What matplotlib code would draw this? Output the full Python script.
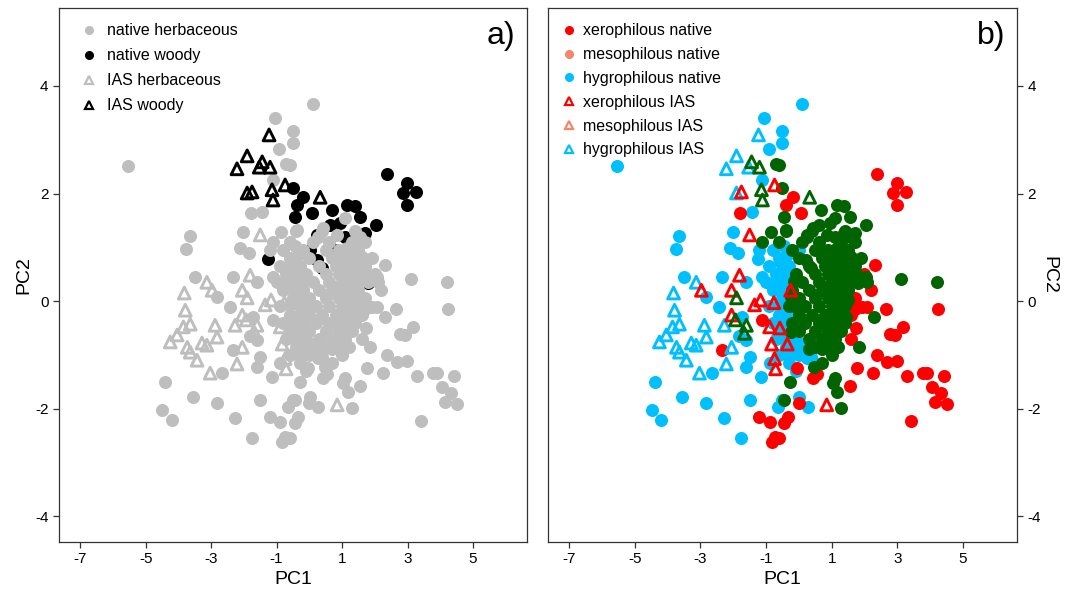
import matplotlib
matplotlib.use("Agg")
import matplotlib.pyplot as plt
from matplotlib.lines import Line2D

plt.rcParams['font.family'] = ['Liberation Sans', 'DejaVu Sans']
plt.rcParams['axes.unicode_minus'] = False

# (PC1, PC2, habitat)  habitat: x = xerophilous, m = mesophilous, h = hygrophilous
native_herb = [
    (-5.55, 2.51, 'h'), (-1.05, 3.40, 'h'), (0.11, 3.67, 'h'), (-0.50, 3.16, 'h'),
    (-0.50, 2.94, 'h'), (-0.92, 2.83, 'h'), (-0.71, 2.55, 'm'), (-0.59, 2.53, 'm'),
    (-1.11, 2.25, 'h'), (-1.78, 1.64, 'x'), (-1.44, 1.66, 'h'), (-2.02, 1.28, 'h'),
    (-0.86, 1.28, 'm'), (-0.38, 1.32, 'm'), (-1.11, 1.10, 'm'), (-3.64, 1.21, 'h'),
    (-3.76, 0.97, 'h'), (-2.11, 0.99, 'h'), (-1.84, 0.89, 'h'), (-1.20, 0.95, 'h'),
    (0.42, 1.36, 'm'), (1.09, 1.54, 'm'),
    (-3.49, 0.45, 'h'), (-2.82, 0.07, 'h'), (-2.42, -0.11, 'h'), (-2.33, 0.45, 'h'),
    (-1.60, 0.35, 'h'), (-1.11, 0.45, 'h'), (-0.59, 0.48, 'h'), (-1.72, -0.30, 'h'),
    (-1.11, -0.35, 'x'), (-1.81, -0.64, 'h'), (-1.60, -0.73, 'h'), (-2.33, -0.91, 'x'),
    (-1.50, -1.04, 'h'), (-1.60, -1.23, 'h'), (-2.66, -1.34, 'h'), (-1.14, -1.41, 'h'),
    (-0.89, -1.15, 'h'), (-4.40, -1.51, 'h'), (-3.55, -1.79, 'h'), (-4.49, -2.03, 'h'),
    (-4.19, -2.21, 'h'), (-2.82, -1.90, 'h'), (-2.27, -2.18, 'h'), (-1.50, -1.84, 'h'),
    (-1.20, -2.16, 'x'), (-0.89, -2.25, 'x'), (-1.75, -2.55, 'h'), (-0.83, -2.62, 'x'),
    (-0.74, -2.52, 'x'), (-0.50, -1.84, 'h'), (-0.65, -1.97, 'h'), (-0.28, -1.51, 'm'),
    (-0.44, -1.84, 'm'), (-0.34, -2.16, 'x'), (-0.44, -2.27, 'x'), (-0.59, -2.55, 'x'),
    (0.02, -1.79, 'h'), (0.27, -1.97, 'h'), (0.00, -1.90, 'x'), (0.42, -1.43, 'x'),
    (1.09, -1.43, 'm'), (1.03, -1.53, 'm'), (1.17, -1.69, 'm'), (1.30, -1.99, 'm'),
    (1.55, -1.58, 'x'), (1.76, -1.25, 'x'), (2.25, -1.34, 'x'), (2.37, -1.00, 'x'),
    (2.68, -1.13, 'x'), (2.98, -1.12, 'x'), (3.29, -1.40, 'x'), (3.78, -1.34, 'x'),
    (3.90, -1.34, 'x'), (4.42, -1.40, 'x'), (4.05, -1.60, 'x'), (4.33, -1.71, 'x'),
    (4.15, -1.88, 'x'), (4.51, -1.92, 'x'), (3.41, -2.23, 'x'), (2.77, -0.61, 'x'),
    (2.92, -0.63, 'x'), (3.17, -0.48, 'x'), (2.65, -0.15, 'x'), (4.24, -0.15, 'x'),
    (4.21, 0.35, 'm'), (3.11, 0.41, 'm'), (2.06, 0.45, 'm'), (2.09, 0.35, 'm'),
    (2.31, 0.67, 'x'), (2.30, -0.30, 'm'), (1.84, -0.86, 'm'), (2.08, -0.11, 'x'),
    (1.93, -0.11, 'x'), (1.74, -0.50, 'x'), (0.93, -0.69, 'x'), (-0.05, -1.25, 'x'),
    (0.47, -1.23, 'm'), (0.38, -1.04, 'h'),
    # dense centre
    (-0.40, 1.30, 'm'), (0.40, 1.30, 'm'), (1.40, 1.30, 'm'),
    (-0.60, 1.10, 'm'), (0.10, 1.10, 'm'), (0.60, 1.10, 'm'), (1.30, 1.10, 'm'), (1.70, 1.10, 'm'),
    (-0.80, 0.95, 'h'), (-0.20, 0.95, 'm'), (0.50, 0.95, 'm'), (0.90, 0.95, 'm'), (1.50, 0.95, 'm'),
    (-0.60, 0.80, 'h'), (0.00, 0.80, 'm'), (0.70, 0.80, 'm'), (1.00, 0.80, 'm'), (1.30, 0.80, 'm'),
    (1.90, 0.80, 'm'),
    (-0.90, 0.65, 'h'), (-0.30, 0.65, 'h'), (0.30, 0.65, 'm'), (0.80, 0.65, 'm'), (1.10, 0.65, 'm'),
    (1.40, 0.65, 'm'), (1.70, 0.65, 'm'),
    (-0.70, 0.50, 'h'), (-0.10, 0.50, 'm'), (0.50, 0.50, 'm'), (0.90, 0.50, 'm'), (1.20, 0.50, 'm'),
    (1.50, 0.50, 'm'), (2.00, 0.50, 'x'),
    (-1.00, 0.35, 'h'), (-0.40, 0.35, 'h'), (0.10, 0.35, 'm'), (0.60, 0.35, 'm'), (1.00, 0.35, 'm'),
    (1.30, 0.35, 'm'), (1.80, 0.35, 'm'),
    (-0.80, 0.20, 'h'), (-0.20, 0.20, 'm'), (0.30, 0.20, 'm'), (0.70, 0.20, 'm'), (1.10, 0.20, 'm'),
    (1.50, 0.20, 'm'), (2.20, 0.20, 'x'),
    (-0.50, 0.05, 'h'), (0.00, 0.05, 'm'), (0.50, 0.05, 'm'), (0.90, 0.05, 'm'), (1.30, 0.05, 'm'),
    (1.70, 0.05, 'x'),
    (-0.90, -0.10, 'h'), (-0.30, -0.10, 'm'), (0.20, -0.10, 'm'), (0.60, -0.10, 'm'), (1.00, -0.10, 'm'),
    (1.40, -0.10, 'm'),
    (-0.60, -0.25, 'h'), (0.00, -0.25, 'm'), (0.40, -0.25, 'm'), (0.80, -0.25, 'm'), (1.20, -0.25, 'm'),
    (1.60, -0.25, 'x'),
    (-0.80, -0.40, 'h'), (-0.20, -0.40, 'm'), (0.20, -0.40, 'm'), (0.60, -0.40, 'm'), (1.00, -0.40, 'm'),
    (1.40, -0.40, 'm'),
    (-0.50, -0.55, 'h'), (0.00, -0.55, 'm'), (0.50, -0.55, 'm'), (0.90, -0.55, 'm'), (1.30, -0.55, 'm'),
    (1.60, -0.70, 'x'),
    (-0.70, -0.70, 'h'), (-0.10, -0.70, 'h'), (0.30, -0.70, 'm'), (0.70, -0.70, 'm'), (1.10, -0.70, 'm'),
    (-0.40, -0.85, 'h'), (0.10, -0.85, 'h'), (0.50, -0.85, 'm'), (0.90, -0.85, 'm'), (1.20, -0.85, 'm'),
    (-0.60, -1.00, 'h'), (0.00, -1.00, 'h'), (1.00, -1.00, 'm'),
    (-0.30, -1.15, 'h'), (0.70, -1.15, 'm'),
    (-0.10, -1.30, 'h'), (0.55, -1.35, 'x'),
    (0.25, 1.20, 'm'), (0.85, 1.22, 'm'), (1.55, 1.20, 'm'),
    (-0.45, 1.02, 'h'), (1.15, 0.98, 'm'),
    (-0.35, 0.85, 'h'), (1.60, 0.82, 'm'),
    (-0.55, 0.70, 'h'), (1.25, 0.70, 'm'),
    (-0.35, 0.55, 'h'), (1.75, 0.52, 'm'),
    (-0.70, 0.40, 'h'), (-0.15, 0.38, 'm'), (1.55, 0.38, 'm'),
    (-0.50, 0.25, 'h'), (0.90, 0.28, 'm'), (1.30, 0.20, 'm'),
    (-0.25, 0.08, 'm'), (1.10, 0.08, 'm'), (1.50, 0.02, 'm'),
    (-0.60, -0.08, 'h'), (-0.05, -0.12, 'm'), (1.20, -0.08, 'm'), (1.70, -0.15, 'x'),
    (-0.35, -0.28, 'h'), (1.00, -0.25, 'm'), (1.45, -0.30, 'm'),
    (-0.50, -0.42, 'h'), (0.80, -0.42, 'm'), (1.20, -0.45, 'm'),
    (-0.25, -0.58, 'm'), (1.10, -0.55, 'm'),
    (-0.40, -0.72, 'h'), (0.90, -0.72, 'm'),
    (-0.15, -0.88, 'h'), (0.30, -0.90, 'm'), (0.70, -0.90, 'm'),
    (-0.30, -1.00, 'h'), (0.25, -1.05, 'h'),
]

native_woody = [
    (-0.50, 2.10, 'm'), (-0.38, 1.79, 'x'), (-0.44, 1.56, 'm'), (-0.19, 1.93, 'x'),
    (0.08, 1.64, 'x'), (0.69, 1.69, 'm'), (1.15, 1.79, 'm'), (1.39, 1.77, 'm'),
    (1.55, 1.56, 'm'), (0.94, 1.45, 'm'), (2.04, 1.41, 'm'), (1.70, 1.26, 'm'),
    (1.39, 1.26, 'm'), (0.63, 1.41, 'm'), (0.24, 1.23, 'm'), (1.09, 1.19, 'm'),
    (0.02, 0.95, 'h'), (2.37, 2.36, 'x'), (2.98, 2.19, 'x'), (2.86, 2.01, 'x'),
    (3.26, 2.03, 'x'), (2.98, 1.79, 'x'), (-1.26, 0.78, 'h'), (0.22, 0.76, 'm'),
    (0.38, 0.61, 'm'), (1.61, 0.52, 'm'), (1.79, 0.33, 'm'), (1.24, 0.24, 'm'),
    (0.75, 0.95, 'm'),
]

ias_herb = [
    (-3.13, 0.35, 'h'), (-2.97, 0.20, 'x'), (-3.82, 0.15, 'h'), (-3.79, -0.17, 'h'),
    (-3.64, -0.43, 'h'), (-3.85, -0.48, 'h'), (-4.04, -0.63, 'h'), (-4.25, -0.76, 'h'),
    (-3.73, -0.86, 'h'), (-3.64, -0.95, 'h'), (-3.43, -1.10, 'h'), (-3.28, -0.78, 'h'),
    (-3.13, -0.82, 'h'), (-2.88, -0.45, 'h'), (-2.82, -0.67, 'h'), (-3.03, -1.34, 'h'),
    (-2.21, -1.17, 'h'), (-2.05, 0.20, 'x'), (-1.90, 0.06, 'm'), (-2.27, -0.45, 'h'),
    (-2.05, -0.26, 'x'), (-1.93, -0.35, 'm'), (-1.81, 0.48, 'x'), (-2.05, -0.86, 'h'),
    (-1.60, -0.45, 'm'), (-1.66, -0.60, 'm'), (-1.35, -0.07, 'x'), (-1.17, 0.02, 'x'),
    (-0.76, -0.03, 'x'), (-0.89, -0.48, 'x'), (-0.58, -0.50, 'x'), (-0.83, -0.80, 'x'),
    (-0.74, -1.07, 'x'), (-0.71, -1.26, 'x'), (-1.50, 1.23, 'x'), (0.85, -1.93, 'x'),
    (-0.25, 0.20, 'x'), (-0.35, -0.80, 'x'),
]

ias_woody = [
    (-1.23, 3.09, 'h'), (-1.90, 2.70, 'h'), (-2.21, 2.46, 'h'), (-1.44, 2.59, 'm'),
    (-1.20, 2.49, 'm'), (-1.53, 2.49, 'h'), (-1.90, 2.01, 'h'), (-1.75, 2.03, 'x'),
    (-1.14, 2.07, 'm'), (-1.11, 1.88, 'm'), (-0.74, 2.16, 'x'), (0.33, 1.93, 'm'),
]

x_ticks = [-7, -5, -3, -1, 1, 3, 5]
y_ticks = [-4, -2, 0, 2, 4]

grey = '#BEBEBE'
hab_colors = {'x': '#FF0000', 'm': '#006400', 'h': '#00BFFF'}
legend_colors = {'x': '#FF0000', 'm': '#F4866B', 'h': '#00BFFF'}
hab_names = {'x': 'xerophilous', 'm': 'mesophilous', 'h': 'hygrophilous'}

S_DOT = 88
S_TRI = 72
TRI_LW = 2.1


def xs(pts):
    return [p[0] for p in pts]


def ys(pts):
    return [p[1] for p in pts]


def sub(pts, h):
    return [p for p in pts if p[2] == h]


fig = plt.figure(figsize=(10.7, 5.93), dpi=100)
ax1 = fig.add_axes([0.0551, 0.086, 0.4374, 0.9005])
ax2 = fig.add_axes([0.5121, 0.086, 0.4383, 0.9005])

# panel a
ax1.scatter(xs(native_woody), ys(native_woody), s=S_DOT, c='black', linewidths=0, zorder=2)
ax1.scatter(xs(native_herb), ys(native_herb), s=S_DOT, c=grey, linewidths=0, zorder=3)
ax1.scatter(xs(ias_herb), ys(ias_herb), s=S_TRI, marker='^', facecolors='none',
            edgecolors=grey, linewidths=TRI_LW, zorder=4)
ax1.scatter(xs(ias_woody), ys(ias_woody), s=S_TRI, marker='^', facecolors='none',
            edgecolors='black', linewidths=TRI_LW, zorder=5)

# panel b
natives = native_herb + native_woody
invasives = ias_herb + ias_woody
z = 2
for h in ['h', 'x', 'm']:
    pts = sub(natives, h)
    ax2.scatter(xs(pts), ys(pts), s=S_DOT, c=hab_colors[h], linewidths=0, zorder=z)
    z += 1
for h in ['h', 'x', 'm']:
    pts = sub(invasives, h)
    ax2.scatter(xs(pts), ys(pts), s=S_TRI, marker='^', facecolors='none',
                edgecolors=hab_colors[h], linewidths=TRI_LW, zorder=z)
    z += 1

for ax in (ax1, ax2):
    ax.set_xlim(-7.65, 6.65)
    ax.set_ylim(-4.48, 5.45)
    ax.set_xticks(x_ticks)
    ax.set_yticks(y_ticks)
    ax.tick_params(direction='out', length=4, width=0.9, labelsize=11, colors='#333333',
                   labelcolor='black')
    for sp in ax.spines.values():
        sp.set_color('#333333')
        sp.set_linewidth(0.9)
    ax.set_xlabel('PC1', fontsize=14, labelpad=3)

ax1.set_ylabel('PC2', fontsize=14, labelpad=2)
ax2.yaxis.tick_right()
ax2.yaxis.set_label_position('right')
ax2.set_ylabel('PC2', fontsize=14, rotation=270, labelpad=12)

ax1.text(0.975, 0.975, 'a)', transform=ax1.transAxes, ha='right', va='top', fontsize=23)
ax2.text(0.975, 0.975, 'b)', transform=ax2.transAxes, ha='right', va='top', fontsize=23)


# legends
def dot(color):
    return Line2D([], [], linestyle='none', marker='o', markersize=5.5,
                  markerfacecolor=color, markeredgecolor=color)


def tri(color):
    return Line2D([], [], linestyle='none', marker='^', markersize=6,
                  markerfacecolor='none', markeredgecolor=color, markeredgewidth=1.6)


h1 = [dot(grey), dot('black'), tri(grey), tri('black')]
l1 = ['native herbaceous', 'native woody', 'IAS herbaceous', 'IAS woody']
ax1.legend(h1, l1, loc='upper left', frameon=False, fontsize=11.5, handlelength=1.0,
           handletextpad=0.6, labelspacing=0.62, borderaxespad=0.4,
           bbox_to_anchor=(0.02, 0.995))

h2 = [dot(legend_colors[h]) for h in 'xmh'] + [tri(legend_colors[h]) for h in 'xmh']
l2 = [hab_names[h] + ' native' for h in 'xmh'] + [hab_names[h] + ' IAS' for h in 'xmh']
ax2.legend(h2, l2, loc='upper left', frameon=False, fontsize=11.5, handlelength=1.0,
           handletextpad=0.4, labelspacing=0.55, borderaxespad=0.4,
           bbox_to_anchor=(0.0, 0.995))

fig.savefig('out.png', dpi=100)
